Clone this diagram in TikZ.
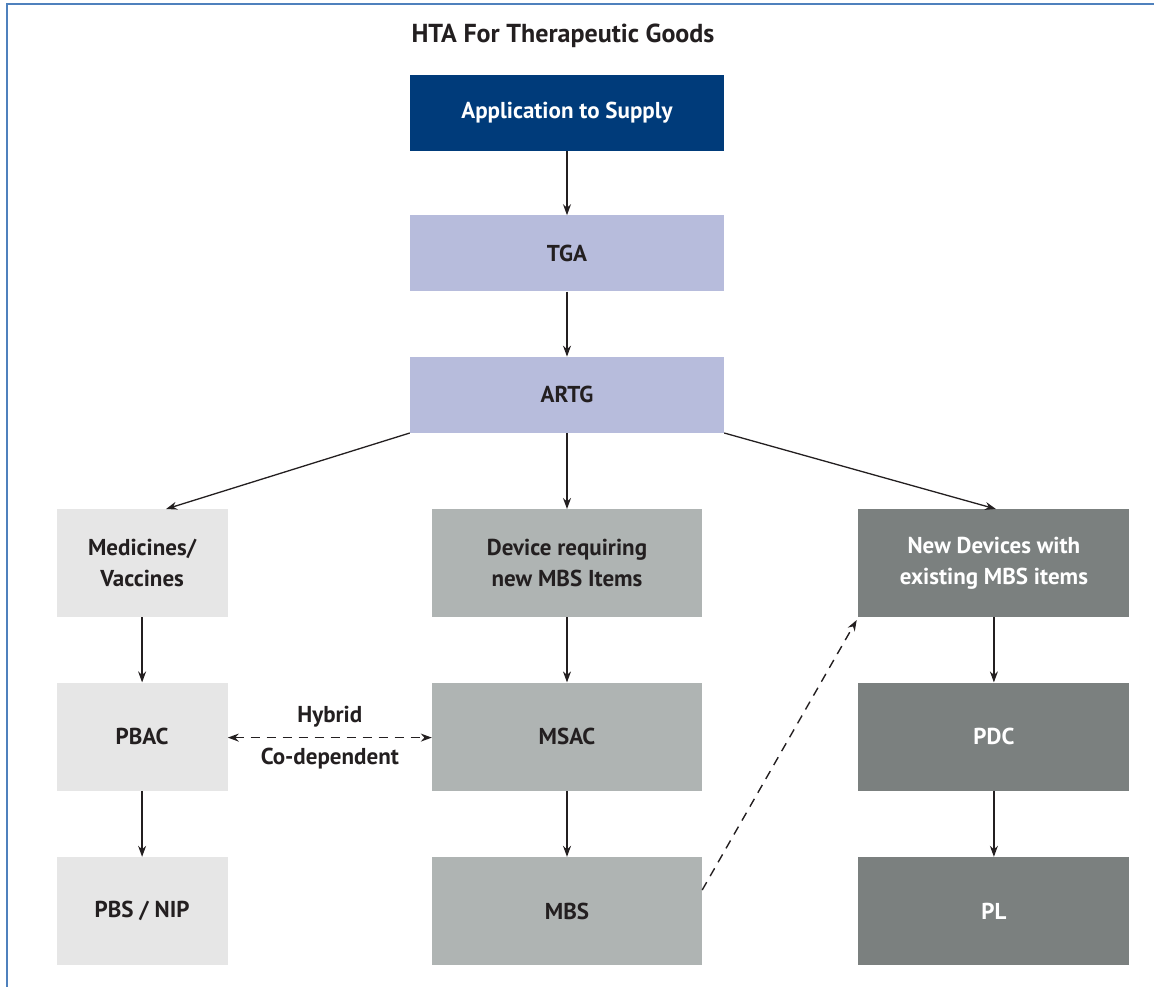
\documentclass[tikz,border=0pt]{standalone}
\usepackage{fontspec}
\setmainfont{PT Sans}
\usepackage{tikz}
\usetikzlibrary{arrows.meta,positioning,calc}
\definecolor{navy}{HTML}{003B7A}
\definecolor{lavender}{HTML}{B7BCDC}
\definecolor{palegrey}{HTML}{E6E6E6}
\definecolor{midgrey}{HTML}{AFB4B3}
\definecolor{darkgrey}{HTML}{7B807F}
\definecolor{inkgrey}{HTML}{231F20}
\definecolor{frameblue}{HTML}{4F81BD}
\tikzset{
  flow/.style={-{Stealth[length=11pt,width=8pt]},line width=1.3pt,color=inkgrey},
  dashflow/.style={-{Stealth[length=11pt,width=8pt]},line width=1.4pt,color=inkgrey,dash pattern=on 9pt off 7pt},
  twoflow/.style={{Stealth[length=11pt,width=8pt]}-{Stealth[length=11pt,width=8pt]},line width=1.4pt,color=inkgrey,dash pattern=on 9pt off 7pt},
}

\begin{document}
\begin{tikzpicture}[x=1pt,y=1pt,
  stage/.style={rectangle,inner sep=0pt,minimum width=314pt,minimum height=76pt,
    font=\fontsize{23}{27}\selectfont\bfseries,text=inkgrey,align=center},
  pathbox/.style={rectangle,inner sep=0pt,minimum height=108pt,
    font=\fontsize{23}{31}\selectfont\bfseries,text=inkgrey,align=center},
  note/.style={font=\fontsize{23}{27}\selectfont\bfseries,text=inkgrey}]

  \useasboundingbox (0,0) rectangle (1154,-987);
  \draw[frameblue,line width=2pt] (6,-4) -- (1154,-4);
  \draw[frameblue,line width=2pt] (7,-4) -- (7,-987);

  \node[anchor=west,font=\fontsize{26}{30}\selectfont\bfseries,text=inkgrey] (title) at (408,-36) {HTA For Therapeutic Goods};

  % top chain
  \node[stage,fill=navy,text=white] (app) at (567,-113) {Application to Supply};
  \node[stage,fill=lavender,below=64pt of app] (tga) {TGA};
  \node[stage,fill=lavender,below=65pt of tga] (artg) {ARTG};

  % three pathways
  \node[pathbox,fill=midgrey,minimum width=270pt,below=76pt of artg] (dev) {Device requiring\\new MBS Items};
  \node[pathbox,fill=palegrey,minimum width=171pt,left=204pt of dev] (med) {Medicines/\\Vaccines};
  \node[pathbox,fill=darkgrey,text=white,minimum width=271pt,right=156pt of dev] (newdev) {New Devices with\\existing MBS items};

  \node[pathbox,fill=palegrey,minimum width=171pt,below=65pt of med] (pbac) {PBAC};
  \node[pathbox,fill=midgrey,minimum width=270pt,below=65pt of dev] (msac) {MSAC};
  \node[pathbox,fill=darkgrey,text=white,minimum width=271pt,below=65pt of newdev] (pdc) {PDC};

  \node[pathbox,fill=palegrey,minimum width=171pt,below=66pt of pbac] (pbs) {PBS / NIP};
  \node[pathbox,fill=midgrey,minimum width=270pt,below=66pt of msac] (mbs) {MBS};
  \node[pathbox,fill=darkgrey,text=white,minimum width=271pt,below=66pt of pdc] (pl) {PL};

  \draw[flow] (app) -- (tga);
  \draw[flow] (tga) -- (artg);
  \draw[flow] (artg.south west) -- ([xshift=24pt]med.north);
  \draw[flow] (artg) -- (dev);
  \draw[flow] (artg.south east) -- ([xshift=2pt]newdev.north);

  \draw[flow] (med) -- (pbac);
  \draw[flow] (pbac) -- (pbs);
  \draw[flow] (dev) -- (msac);
  \draw[flow] (msac) -- (mbs);
  \draw[flow] (newdev) -- (pdc);
  \draw[flow] (pdc) -- (pl);

  \draw[twoflow] ([yshift=-1pt]pbac.east) -- node[note,above=6pt] {Hybrid}
    node[note,below=6pt] {Co-dependent} ([yshift=-1pt]msac.east -| msac.west);
  \draw[dashflow,shorten >=3pt] ([yshift=21pt]mbs.east) -- (newdev.south west);
\end{tikzpicture}
\end{document}
